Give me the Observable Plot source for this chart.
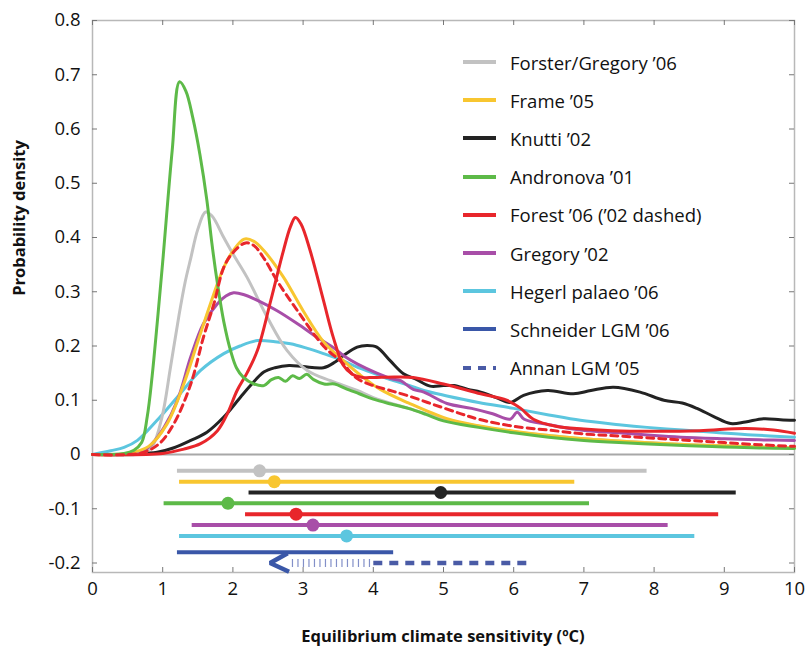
<!DOCTYPE html>
<html><head><meta charset="utf-8">
<script src="https://cdn.jsdelivr.net/npm/d3@7"></script>
<script src="https://cdn.jsdelivr.net/npm/@observablehq/plot@0.6"></script>
<style>
body{margin:0;background:#fff;font-family:"Open Sans",sans-serif;color:#111;}
#wrap{position:relative;width:807px;height:646px;overflow:hidden;}
#wrap > svg{position:absolute;left:0;top:0;}
.ytitle{position:absolute;left:18px;top:218px;transform:translate(-50%,-50%) rotate(-90deg);white-space:nowrap;font-weight:700;font-size:16.5px;}
.xtitle{position:absolute;left:443px;top:635px;transform:translate(-50%,-50%);white-space:nowrap;font-weight:700;font-size:16.5px;}
.legend{position:absolute;left:463px;top:43px;}
.row{height:38.2px;display:flex;align-items:center;font-size:18.5px;white-space:nowrap;}
.row svg{display:block;margin-right:14px;flex:none;}
</style></head><body><div id="wrap"></div><script>
// ---------- data ----------
const names = ["Forster/Gregory ’06","Frame ’05","Knutti ’02","Andronova ’01","Forest ’06 (’02 dashed)","Gregory ’02","Hegerl palaeo ’06","Schneider LGM ’06","Annan LGM ’05"];
const colors = ["#c2c2c2","#f8c630","#232323","#5dba48","#e8262b","#a84ea8","#5cc6df","#3a57a8","#4a5ba6"];

const forster = [[0,0],[0.7,0.002],[0.85,0.015],[0.99,0.069],[1.11,0.16],[1.23,0.255],[1.32,0.318],[1.4,0.362],[1.5,0.415],[1.61,0.447],[1.7,0.44],[1.87,0.4],[2.0,0.37],[2.2,0.327],[2.49,0.253],[2.77,0.192],[3.06,0.155],[3.39,0.136],[3.77,0.118],[4.0,0.105],[4.5,0.085],[5.0,0.066],[5.5,0.052],[6.0,0.042],[6.5,0.035],[7.0,0.029],[7.5,0.025],[8.0,0.021],[8.5,0.018],[9.0,0.016],[9.5,0.014],[10,0.012]];
const frame05 = [[0,0],[0.5,0.002],[0.8,0.015],[1.06,0.056],[1.3,0.13],[1.49,0.204],[1.68,0.278],[1.87,0.345],[2.0,0.375],[2.16,0.397],[2.3,0.393],[2.44,0.376],[2.72,0.327],[3.0,0.265],[3.29,0.208],[3.53,0.178],[3.8,0.148],[4.1,0.12],[4.5,0.095],[5.05,0.066],[5.5,0.053],[6.0,0.043],[6.5,0.035],[7.0,0.029],[7.5,0.025],[8.0,0.021],[8.5,0.018],[9.0,0.016],[9.5,0.014],[10,0.012]];
const knutti = [[0,0],[0.6,0.001],[0.92,0.004],[1.15,0.012],[1.4,0.026],[1.63,0.041],[1.87,0.069],[2.11,0.106],[2.25,0.127],[2.44,0.152],[2.6,0.16],[2.8,0.164],[3.0,0.162],[3.29,0.16],[3.45,0.17],[3.58,0.183],[3.77,0.198],[3.91,0.201],[4.05,0.198],[4.24,0.173],[4.43,0.149],[4.62,0.138],[4.81,0.126],[5.0,0.127],[5.15,0.127],[5.35,0.12],[5.53,0.115],[5.75,0.105],[5.95,0.096],[6.14,0.109],[6.48,0.118],[6.85,0.112],[7.1,0.118],[7.42,0.124],[7.8,0.115],[8.14,0.1],[8.4,0.095],[8.61,0.085],[8.85,0.07],[9.09,0.057],[9.3,0.06],[9.56,0.066],[9.8,0.064],[10,0.063]];
const andronova = [[0,0],[0.45,0.002],[0.59,0.008],[0.7,0.022],[0.78,0.07],[0.85,0.145],[0.92,0.24],[1.0,0.355],[1.135,0.56],[1.24,0.687],[1.33,0.67],[1.43,0.62],[1.53,0.553],[1.63,0.468],[1.7,0.39],[1.78,0.315],[1.87,0.245],[1.97,0.19],[2.05,0.16],[2.15,0.142],[2.3,0.13],[2.44,0.127],[2.55,0.138],[2.65,0.142],[2.75,0.135],[2.85,0.145],[2.95,0.14],[3.05,0.148],[3.15,0.138],[3.3,0.13],[3.45,0.13],[3.6,0.122],[3.8,0.112],[4.0,0.102],[4.25,0.093],[4.5,0.085],[4.75,0.074],[5.0,0.062],[5.5,0.05],[6.0,0.04],[6.5,0.032],[7.0,0.026],[7.5,0.022],[8.0,0.019],[8.5,0.016],[9.0,0.014],[9.5,0.012],[10,0.011]];
const forest06 = [[0,0],[1.0,0.002],[1.3,0.01],[1.54,0.02],[1.78,0.044],[1.92,0.075],[2.06,0.118],[2.2,0.15],[2.35,0.192],[2.54,0.284],[2.72,0.376],[2.82,0.42],[2.89,0.437],[2.97,0.425],[3.1,0.376],[3.29,0.284],[3.43,0.216],[3.57,0.165],[3.7,0.148],[3.85,0.142],[4.0,0.142],[4.3,0.143],[4.57,0.142],[5.0,0.13],[5.53,0.112],[5.9,0.1],[6.1,0.085],[6.28,0.065],[6.6,0.052],[7.0,0.047],[7.4,0.044],[8.0,0.043],[8.65,0.044],[9.3,0.048],[9.7,0.045],[10,0.039]];
const forest02 = [[0,0],[0.7,0.003],[0.95,0.02],[1.16,0.057],[1.4,0.13],[1.58,0.216],[1.73,0.278],[1.87,0.345],[2.0,0.372],[2.18,0.39],[2.3,0.385],[2.45,0.36],[2.63,0.32],[2.92,0.265],[3.29,0.2],[3.55,0.17],[3.77,0.14],[4.0,0.127],[4.24,0.118],[4.5,0.108],[4.86,0.092],[5.25,0.075],[5.5,0.065],[6.0,0.052],[6.5,0.045],[7.0,0.038],[7.5,0.034],[8.0,0.03],[8.5,0.026],[9.0,0.022],[9.5,0.018],[10,0.015]];
const gregory02 = [[0,0],[0.7,0.005],[0.85,0.02],[1.02,0.05],[1.21,0.1],[1.4,0.18],[1.58,0.241],[1.78,0.278],[1.9,0.292],[2.01,0.298],[2.15,0.295],[2.35,0.284],[2.63,0.265],[2.92,0.241],[3.2,0.216],[3.43,0.197],[3.6,0.18],[3.77,0.167],[4.05,0.15],[4.25,0.14],[4.39,0.136],[4.57,0.12],[4.72,0.115],[5.05,0.094],[5.4,0.085],[5.7,0.075],[5.95,0.065],[6.05,0.078],[6.15,0.065],[6.5,0.055],[6.95,0.045],[7.5,0.04],[8.0,0.035],[8.38,0.032],[9.0,0.029],[9.5,0.027],[10,0.026]];
const hegerl = [[0,0],[0.26,0.007],[0.45,0.013],[0.64,0.026],[0.92,0.063],[1.21,0.106],[1.54,0.155],[1.87,0.186],[2.1,0.2],[2.35,0.21],[2.6,0.208],[2.82,0.204],[3.05,0.196],[3.29,0.186],[3.55,0.174],[3.77,0.161],[4.0,0.15],[4.24,0.138],[4.5,0.128],[4.72,0.118],[5.05,0.108],[5.5,0.096],[6.0,0.085],[6.5,0.073],[6.95,0.063],[7.5,0.055],[7.9,0.05],[8.4,0.045],[8.85,0.041],[9.4,0.036],[10,0.032]];

// 5-95% ranges with mode, at row values below zero
const rangeLo   = [1.21, 1.24, 2.23, 1.02, 2.18, 1.42, 1.24, 1.21];
const rangeHi   = [7.9, 6.87, 9.17, 7.08, 8.92, 8.2, 8.58, 4.29];
const rangeMode = [2.38, 2.59, 4.96, 1.93, 2.9, 3.14, 3.62, null];
const rangeRow  = [-0.03, -0.05, -0.07, -0.09, -0.11, -0.13, -0.15, -0.18];
const annanArrow = [[2.78,-0.182],[2.53,-0.2],[2.8,-0.216]];
const annanHatch = [[2.84,-0.2],[3.97,-0.2]];
const annanDash  = [[4.0,-0.2],[6.2,-0.2]];

const xTicks = [0,1,2,3,4,5,6,7,8,9,10];
const yTicks = [-0.2,-0.1,0,0.1,0.2,0.3,0.4,0.5,0.6,0.7,0.8];

// ---------- chart ----------
const curves = [
  {d: hegerl, c: colors[6]},
  {d: knutti, c: colors[2]},
  {d: forster, c: colors[0]},
  {d: gregory02, c: colors[5]},
  {d: frame05, c: colors[1]},
  {d: forest06, c: colors[4]},
  {d: andronova, c: colors[3]}
];
const bars = rangeLo.map((lo,i)=>({lo, hi: rangeHi[i], mode: rangeMode[i], row: rangeRow[i], c: colors[i]}));
const fmt = d => d === 0 ? "0" : d.toFixed(1);
const W = 807, H = 646, mL = 92, mR = 13, mT = 20, mB = 74;
const pw = W - mL - mR, ph = H - mT - mB;

const marks = [
  Plot.frame({stroke: "#b8b8b8", strokeWidth: 1.5}),
  Plot.ruleY([0], {stroke: "#a8a8a8", strokeWidth: 2}),
  Plot.tickX(xTicks, {x: d => d, insetTop: ph - 5, stroke: "#777"}),
  Plot.tickX(xTicks, {x: d => d, insetBottom: ph - 5, stroke: "#777"}),
  Plot.tickY(yTicks, {y: d => d, insetRight: pw - 5, stroke: "#777"}),
  Plot.tickY(yTicks, {y: d => d, insetLeft: pw - 5, stroke: "#777"}),
  Plot.axisX(xTicks, {tickSize: 0, tickPadding: 9, label: null, tickFormat: d => String(d), fontSize: 18.5}),
  Plot.axisY(yTicks, {tickSize: 0, tickPadding: 12, label: null, tickFormat: fmt, fontSize: 18.5}),
];
for (const cv of curves) {
  marks.push(Plot.line(cv.d, {x: d => d[0], y: d => d[1], stroke: cv.c, strokeWidth: 3, curve: "catmull-rom"}));
}
marks.push(Plot.line(forest02, {x: d => d[0], y: d => d[1], stroke: colors[4], strokeWidth: 3, strokeDasharray: "7,5", curve: "catmull-rom"}));
marks.push(
  Plot.ruleY(bars, {y: "row", x1: "lo", x2: "hi", stroke: "c", strokeWidth: 4}),
  Plot.dot(bars.filter(b => b.mode != null), {x: "mode", y: "row", fill: "c", r: 6.5}),
  Plot.line(annanArrow, {x: d => d[0], y: d => d[1], stroke: colors[7], strokeWidth: 4.5, strokeLinejoin: "miter", strokeLinecap: "butt"}),
  Plot.line(annanHatch, {x: d => d[0], y: d => d[1], stroke: "#8390c8", strokeWidth: 8, strokeDasharray: "1.2,4.3", strokeLinecap: "butt"}),
  Plot.line(annanDash, {x: d => d[0], y: d => d[1], stroke: colors[8], strokeWidth: 4.5, strokeDasharray: "9,7", strokeLinecap: "butt"})
);

const chart = Plot.plot({
  width: W, height: H,
  marginLeft: mL, marginRight: mR, marginTop: mT, marginBottom: mB,
  x: {domain: [0, 10]},
  y: {domain: [-0.2175, 0.8]},
  style: {fontFamily: "Open Sans, sans-serif", fontSize: "18px", color: "#111", background: "transparent", overflow: "visible"},
  marks
});

const wrap = document.getElementById("wrap");
wrap.appendChild(chart);

// axis titles
const yt = document.createElement("div"); yt.className = "ytitle"; yt.textContent = "Probability density"; wrap.appendChild(yt);
const xt = document.createElement("div"); xt.className = "xtitle"; xt.textContent = "Equilibrium climate sensitivity (ºC)"; wrap.appendChild(xt);

// legend
const lg = document.createElement("div"); lg.className = "legend";
names.forEach((n, i) => {
  const row = document.createElement("div"); row.className = "row";
  const dash = i === 8 ? ' stroke-dasharray="8,7"' : '';
  row.innerHTML = `<svg width="33" height="8"><line x1="0" y1="4" x2="33" y2="4" stroke="${colors[i]}" stroke-width="4"${dash}/></svg><span>${n}</span>`;
  lg.appendChild(row);
});
wrap.appendChild(lg);
</script></body></html>
